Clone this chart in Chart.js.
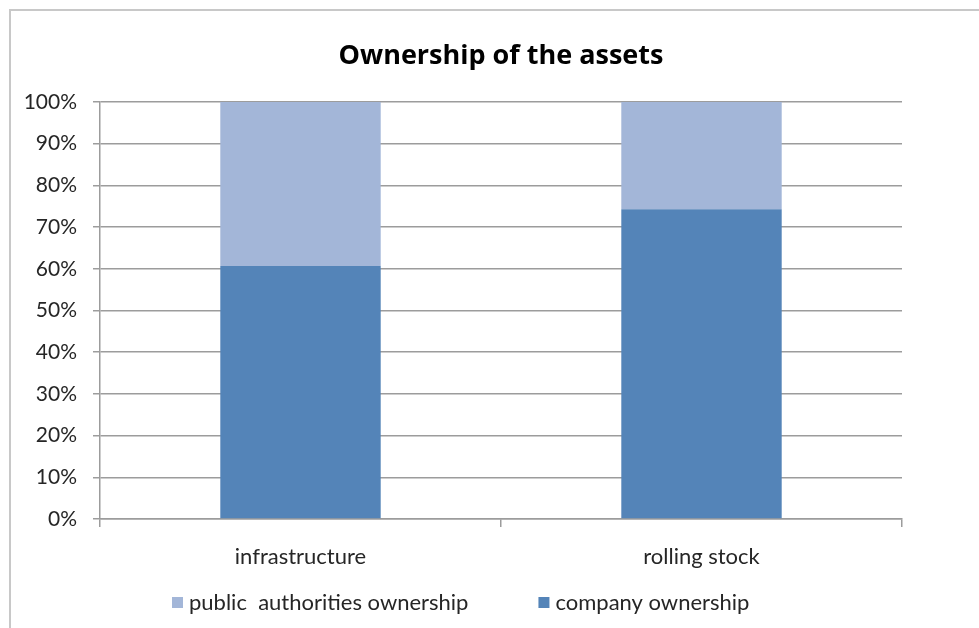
<!DOCTYPE html>
<html>
<head>
<meta charset="utf-8">
<script src="https://cdn.jsdelivr.net/npm/chart.js@4.4.1/dist/chart.umd.min.js"></script>
<style>
  html, body { margin: 0; padding: 0; background: #fff; overflow: hidden; }
  #wrap { position: relative; width: 979px; height: 628px; }
  /* grey frame around the chart, open on the right and bottom */
  #frame { position: absolute; left: 9px; top: 9px; width: 1100px; height: 800px; border: 2px solid #c8c8c8; box-sizing: border-box; }
  #myChart { position: absolute; left: 0; top: 0; }
</style>
</head>
<body>
<div id="wrap">
  <div id="frame"></div>
  <canvas id="myChart" width="979" height="628"></canvas>
</div>
<script>
// data
const categories = ['infrastructure', 'rolling stock'];
const companyShare = [60.7, 74.3];
const publicShare = [39.3, 25.7];
const seriesNames = ['company ownership', 'public  authorities ownership'];
const seriesColors = ['#5484b8', '#a3b6d8'];

const FONT = 'Lato, "Open Sans", sans-serif';
const TEXT = '#262626';

// legend under the axis: public first, then company
const bottomLegend = {
  id: 'bottomLegend',
  afterDraw(chart, args, opts) {
    const ctx = chart.ctx;
    ctx.save();
    ctx.font = '22px ' + FONT;
    ctx.textBaseline = 'middle';
    let x = opts.x;
    opts.order.forEach(i => {
      const ds = chart.data.datasets[i];
      ctx.fillStyle = ds.backgroundColor;
      ctx.fillRect(x, opts.y - 6, 11, 11);
      x += 11 + 6;
      ctx.fillStyle = TEXT;
      ctx.fillText(ds.label, x, opts.y);
      x += ctx.measureText(ds.label).width + opts.gap;
    });
    ctx.restore();
  }
};

const ctx = document.getElementById('myChart').getContext('2d');
const myChart = new Chart(ctx, {
  type: 'bar',
  data: {
    labels: categories,
    datasets: [
      { label: seriesNames[0], data: companyShare, backgroundColor: seriesColors[0] },
      { label: seriesNames[1], data: publicShare, backgroundColor: seriesColors[1] }
    ]
  },
  options: {
    responsive: false,
    animation: false,
    layout: { padding: { left: 0, right: 77, top: 0, bottom: 59 } },
    datasets: {
      bar: { categoryPercentage: 0.4, barPercentage: 1.0, borderWidth: 0 }
    },
    scales: {
      x: {
        stacked: true,
        offset: true,
        grid: { offset: true, drawOnChartArea: false, drawTicks: true, tickLength: 8, color: '#9c9c9c', lineWidth: 1.5 },
        border: { display: true, color: '#9c9c9c', width: 1.5 },
        ticks: { color: TEXT, font: { family: FONT, size: 22 }, padding: 17, maxRotation: 0 },
        afterFit(scale) { scale.height = 50; }
      },
      y: {
        stacked: true,
        min: 0,
        max: 100,
        grid: { color: '#9c9c9c', lineWidth: 1.5, tickLength: 7 },
        border: { display: true, color: '#9c9c9c', width: 1.5 },
        ticks: {
          stepSize: 10,
          color: TEXT,
          font: { family: FONT, size: 21 },
          padding: 16,
          callback: v => v + '%'
        },
        afterFit(scale) { scale.width = 100; }
      }
    },
    plugins: {
      title: {
        display: true,
        fullSize: false,
        text: 'Ownership of the assets',
        color: '#000',
        font: { family: '"Open Sans", Lato, sans-serif', size: 27, weight: 'bold' },
        padding: { top: 40, bottom: 29.6 }
      },
      legend: { display: false },
      tooltip: { enabled: false },
      bottomLegend: { x: 172, y: 603, gap: 70, order: [1, 0] }
    }
  },
  plugins: [bottomLegend]
});
</script>
</body>
</html>
